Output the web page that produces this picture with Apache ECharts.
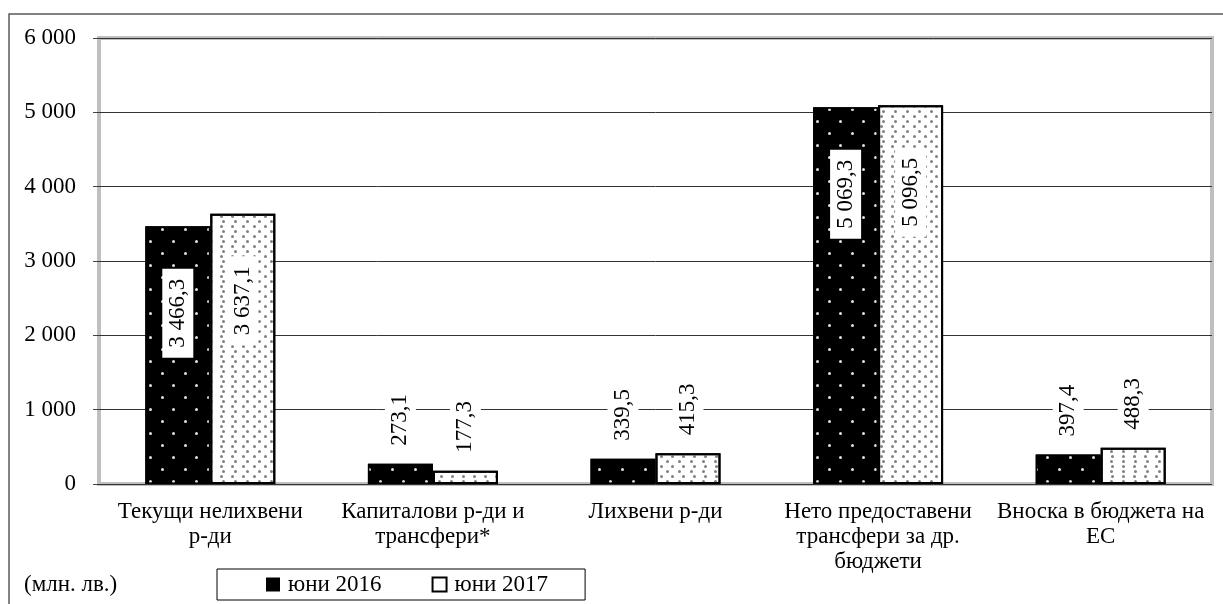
<!DOCTYPE html>
<html><head><meta charset="utf-8">
<script src="https://cdn.jsdelivr.net/npm/echarts@6/dist/echarts.min.js"></script>
<style>html,body{margin:0;padding:0;background:#fff}#c{width:1223px;height:604px}</style>
</head><body><div id="c"></div>
<script>
var categories = ['Текущи нелихвени\nр-ди', 'Капиталови р-ди и\nтрансфери*', 'Лихвени р-ди', 'Нето предоставени\nтрансфери за др.\nбюджети', 'Вноска в бюджета на\nЕС'];
var series2016 = [3466.3, 273.1, 339.5, 5069.3, 397.4];
var series2017 = [3637.1, 177.3, 415.3, 5096.5, 488.3];
var seriesNames = ['юни 2016', 'юни 2017'];
var yTicks = [0, 1000, 2000, 3000, 4000, 5000, 6000];
var unitText = '(млн. лв.)';

var FONT = 'Liberation Serif';
var FS = 23;

function fmtThousands(n) {
  var s = String(Math.floor(n));
  return s.replace(/\B(?=(\d{3})+(?!\d))/g, ' ');
}
function fmtValue(v) {
  var parts = v.toFixed(1).split('.');
  return fmtThousands(Number(parts[0])) + ',' + parts[1];
}

var labelBase = {
  show: true, rotate: 90, fontFamily: FONT, fontSize: FS, color: '#000',
  backgroundColor: '#fff', padding: [4, 10], formatter: function (p) { return fmtValue(p.value); }
};
function buildData(arr) {
  return arr.map(function (v) {
    if (v >= 1000) {
      return { value: v, label: Object.assign({}, labelBase, { position: ['50%', 87], align: 'center', verticalAlign: 'middle' }) };
    }
    return { value: v, label: Object.assign({}, labelBase, { position: 'top', distance: 8, align: 'left', verticalAlign: 'middle' }) };
  });
}

var chart = echarts.init(document.getElementById('c'), null, { renderer: 'canvas' });
chart.setOption({
  animation: false,
  backgroundColor: '#fff',
  textStyle: { fontFamily: FONT },
  graphic: [
    { type: 'rect', shape: { x: 9, y: 14, width: 1240, height: 620 }, style: { fill: null, stroke: '#5a5a5a', lineWidth: 1.5 }, z: -10 },
    { type: 'text', left: 24, top: 573, style: { text: unitText, font: FS + 'px ' + FONT, fill: '#000' } }
  ],
  grid: { left: 99, right: 11, top: 38, bottom: 120, show: true, borderColor: '#bfbfbf', borderWidth: 4 },
  legend: {
    left: 217, top: 569,
    data: [
      { name: seriesNames[0], icon: 'rect', itemStyle: { color: '#000', borderWidth: 0, decal: 'none' } },
      { name: seriesNames[1], icon: 'rect', itemStyle: { color: '#fff', borderColor: '#000', borderWidth: 2, decal: 'none' } }
    ],
    itemWidth: 14, itemHeight: 14, itemGap: 50,
    borderColor: '#000', borderWidth: 1, padding: [4, 37, 4, 49],
    textStyle: { fontFamily: FONT, fontSize: FS, color: '#000', padding: [0, 0, 0, 3] }
  },
  xAxis: {
    type: 'category', data: categories,
    axisLine: { show: false }, axisTick: { show: false },
    axisLabel: { fontFamily: FONT, fontSize: FS, color: '#000', lineHeight: 25, margin: 15, interval: 0 }
  },
  yAxis: {
    type: 'value', min: 0, max: 6000, interval: 1000,
    axisLine: { show: false },
    axisTick: { show: true, length: 6, lineStyle: { color: '#404040', width: 1 } },
    splitLine: { show: true, lineStyle: { color: '#333', width: 1 } },
    axisLabel: { fontFamily: FONT, fontSize: FS, color: '#000', margin: 23,
      formatter: function (v) { return yTicks.indexOf(v) >= 0 ? fmtThousands(v) : ''; } }
  },
  series: [
    {
      name: seriesNames[0], type: 'bar', data: buildData(series2016),
      barGap: '0%', barCategoryGap: '41.6%',
      itemStyle: {
        color: '#000', borderColor: '#000', borderWidth: 1.5,
        decal: { symbol: 'circle', color: '#e0e0e0', symbolSize: 1, dashArrayX: [[2.5, 19.1], [0, 10.8, 2.5, 8.3]], dashArrayY: [2.5, 8.2], rotation: 0 }
      }
    },
    {
      name: seriesNames[1], type: 'bar', data: buildData(series2017),
      itemStyle: {
        color: '#fff', borderColor: '#000', borderWidth: 2,
        decal: { symbol: 'circle', color: '#808080', symbolSize: 1, dashArrayX: [[3, 7.3], [0, 5.15, 3, 2.15]], dashArrayY: [3, 1.2], rotation: 0 }
      }
    }
  ]
});
</script></body></html>
